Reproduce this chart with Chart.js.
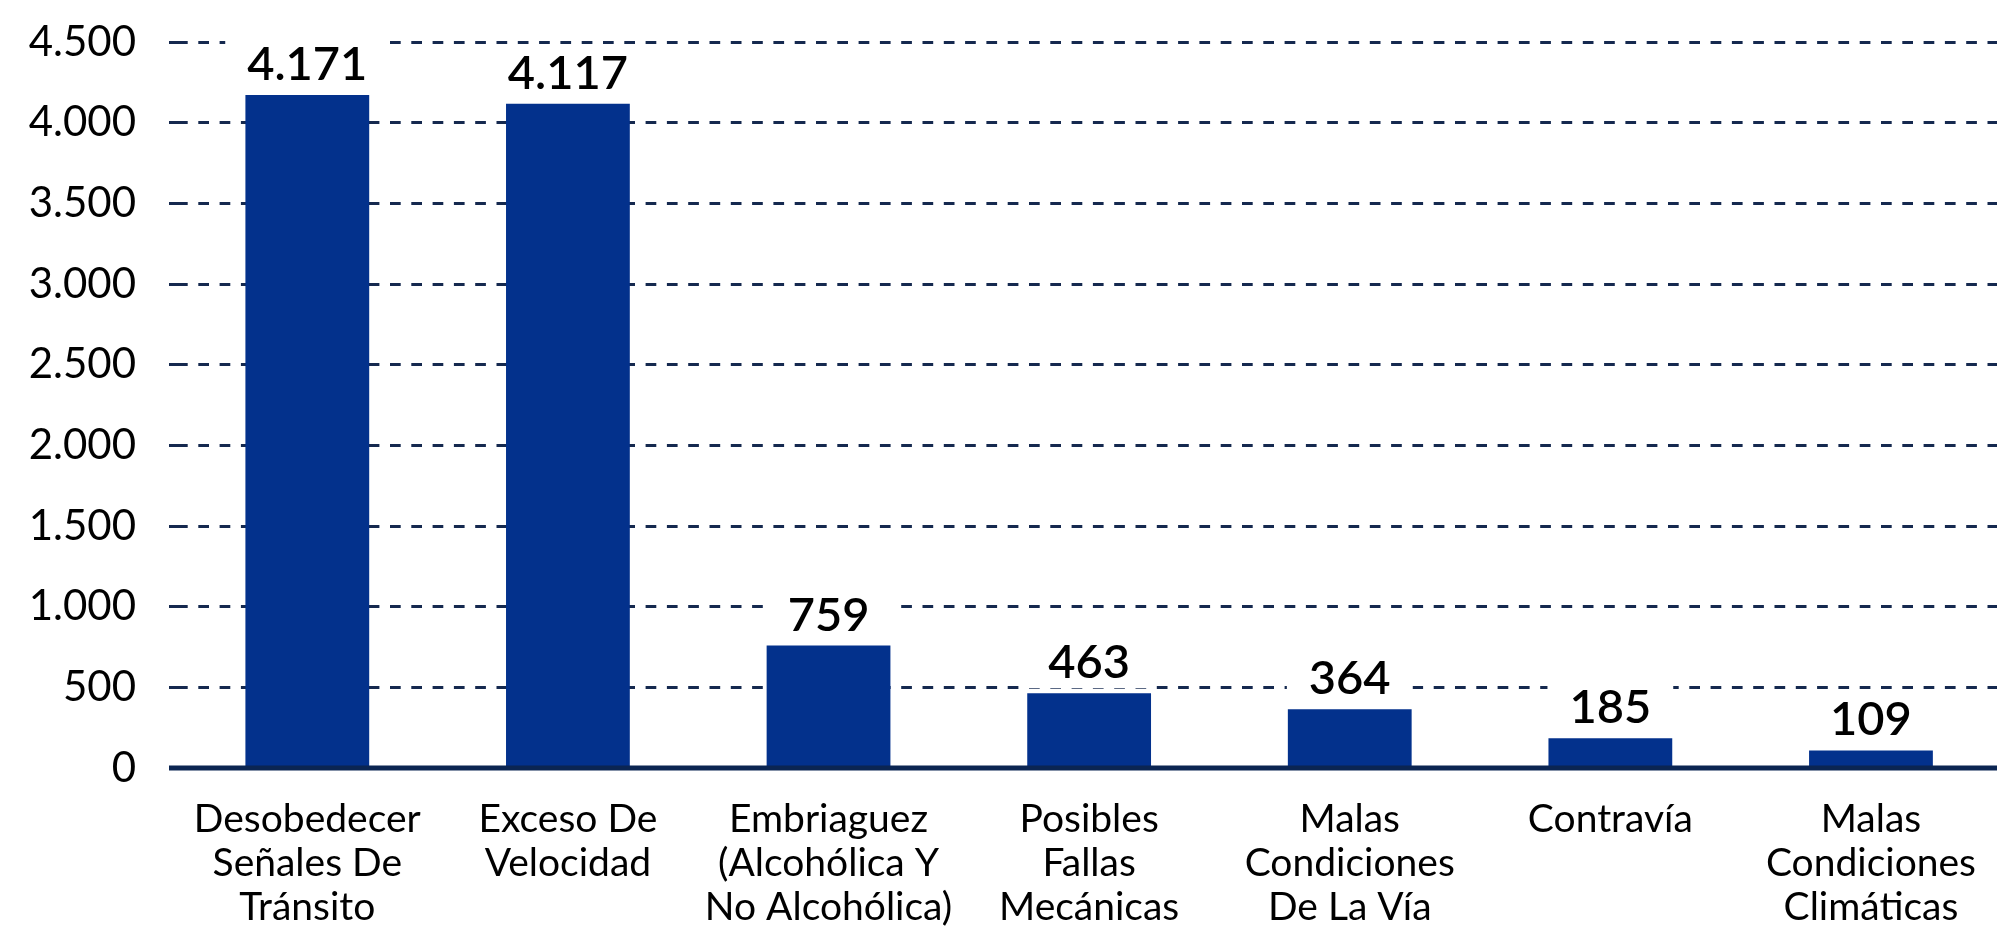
<!DOCTYPE html>
<html>
<head>
<meta charset="utf-8">
<script src="https://cdn.jsdelivr.net/npm/chart.js@4.4.1/dist/chart.umd.min.js"></script>
<style>
    body { margin: 0; background: #ffffff; }
    #wrap { width: 1997px; height: 926px; overflow: hidden; }
</style>
</head>
<body>
<div id="wrap"><canvas id="causasChart" width="2005" height="926"></canvas></div>
<script>
// categories (multi-line labels as in the picture)
const categories = [
    ["Desobedecer", "Señales De", "Tránsito"],
    ["Exceso De", "Velocidad"],
    ["Embriaguez", "(Alcohólica Y", "No Alcohólica)"],
    ["Posibles", "Fallas", "Mecánicas"],
    ["Malas", "Condiciones", "De La Vía"],
    ["Contravía"],
    ["Malas", "Condiciones", "Climáticas"]
];
const casos = [4171, 4117, 759, 463, 364, 185, 109];
const yTicks = [0, 500, 1000, 1500, 2000, 2500, 3000, 3500, 4000, 4500];

const barColor = "#03318c";
const gridColor = "#15294f";
const axisColor = "#0b2552";

// thousands separator with a dot
function fmt(v) {
    return String(Math.round(v)).replace(/\B(?=(\d{3})+(?!\d))/g, ".");
}

// solid zero line, starting where the dashed grid starts
const zeroLine = {
    id: "zeroLine",
    afterDatasetsDraw(chart) {
        const { ctx, chartArea, scales } = chart;
        const y = scales.y.getPixelForValue(0);
        ctx.save();
        ctx.strokeStyle = axisColor;
        ctx.lineWidth = 5;
        ctx.beginPath();
        ctx.moveTo(chartArea.left - 8, y);
        ctx.lineTo(chart.width, y);
        ctx.stroke();
        ctx.restore();
    }
};

// value labels on a white box above each bar
const valueLabels = {
    id: "valueLabels",
    afterDatasetsDraw(chart) {
        const { ctx } = chart;
        const meta = chart.getDatasetMeta(0);
        ctx.save();
        ctx.font = "600 47px Lato";
        ctx.textAlign = "center";
        ctx.textBaseline = "alphabetic";
        meta.data.forEach((bar, i) => {
            const text = fmt(casos[i]);
            const w = ctx.measureText(text).width;
            const base = bar.y - 15;
            ctx.fillStyle = "#ffffff";
            ctx.fillRect(bar.x - w / 2 - 22, base - 42, w + 44, 52);
            ctx.fillStyle = "#000000";
            ctx.fillText(text, bar.x, base);
        });
        ctx.restore();
    }
};

const ctx = document.getElementById("causasChart").getContext("2d");
new Chart(ctx, {
    type: "bar",
    data: {
        labels: categories,
        datasets: [{
            label: "Casos",
            data: casos,
            backgroundColor: barColor,
            borderWidth: 0,
            categoryPercentage: 1,
            barPercentage: 0.475
        }]
    },
    options: {
        responsive: false,
        animation: false,
        layout: { padding: { top: 42, left: 0, right: 0, bottom: 0 } },
        plugins: {
            legend: { display: false },
            tooltip: { enabled: false }
        },
        scales: {
            x: {
                grid: { display: false, drawTicks: false },
                border: { display: false },
                ticks: {
                    color: "#000000",
                    padding: 29,
                    maxRotation: 0,
                    autoSkip: false,
                    font: { family: "Lato", size: 39, lineHeight: 1.13 }
                },
                afterFit(scale) { scale.height = 158; }
            },
            y: {
                min: 0,
                max: 4500,
                afterBuildTicks(scale) {
                    scale.ticks = yTicks.map(v => ({ value: v }));
                },
                grid: {
                    color: c => (c.tick && c.tick.value === 0) ? "rgba(0,0,0,0)" : gridColor,
                    tickColor: c => (c.tick && c.tick.value === 0) ? "rgba(0,0,0,0)" : gridColor,
                    lineWidth: 3,
                    tickWidth: 3,
                    tickLength: 8,
                    tickBorderDash: [10.7, 10.6]
                },
                border: { display: false, dash: [10.7, 10.6] },
                ticks: {
                    color: "#000000",
                    padding: 33,
                    font: { family: "Lato", size: 42 },
                    callback: v => fmt(v)
                },
                afterFit(scale) {
                    scale.width = 177;
                    // keep the top of the plot on the 4.500 line
                    scale.paddingTop = 0;
                    scale.paddingBottom = 0;
                }
            }
        }
    },
    plugins: [zeroLine, valueLabels]
});
</script>
</body>
</html>
